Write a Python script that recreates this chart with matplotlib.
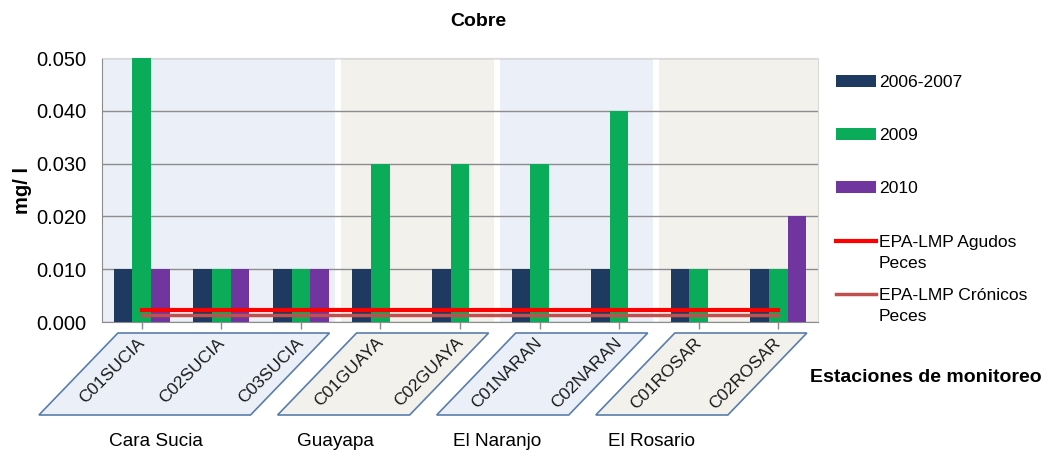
import numpy as np
import matplotlib
matplotlib.use("Agg")
import matplotlib.pyplot as plt
from matplotlib.patches import Polygon

plt.rcParams['font.family'] = ['Liberation Sans', 'DejaVu Sans']

# ---- data ----
stations = ["C01SUCIA", "C02SUCIA", "C03SUCIA", "C01GUAYA", "C02GUAYA",
            "C01NARAN", "C02NARAN", "C01ROSAR", "C02ROSAR"]
groups = ["Cara Sucia", "Guayapa", "El Naranjo", "El Rosario"]
group_members = [(0, 2), (3, 4), (5, 6), (7, 8)]
group_label_x = [0.18, 2.44, 4.47, 6.41]

cu_0607 = [0.010, 0.010, 0.010, 0.010, 0.010, 0.010, 0.010, 0.010, 0.010]
cu_2009 = [0.050, 0.010, 0.010, 0.030, 0.030, 0.030, 0.040, 0.010, 0.010]
cu_2010 = [0.010, 0.010, 0.010, np.nan, np.nan, np.nan, np.nan, np.nan, 0.020]

lmp_agudos = 0.0023
lmp_cronicos = 0.0013

series_labels = ["2006-2007", "2009", "2010"]
series_colors = ["#1F3A60", "#0BAC59", "#7135A0"]
band_colors = ["#EBF0F8", "#F2F1EC", "#EBF0F8", "#F2F1EC"]

# ---- figure ----
fig = plt.figure(figsize=(10.47, 4.51), dpi=100)
ax = fig.add_axes([102 / 1047, 1 - 322 / 451, 716 / 1047, 264 / 451])

x = np.arange(len(stations))
ax.set_xlim(-0.5, len(stations) - 0.5)
ax.set_ylim(0, 0.050)

# shaded bands per locality
for (a, b), c in zip(group_members, band_colors):
    lo = a - 0.5
    hi = b + 0.5 - (0.07 if b < len(stations) - 1 else 0)
    ax.axvspan(lo, hi, color=c, zorder=0, lw=0)

yt = np.arange(0, 0.051, 0.01)
ax.set_yticks(yt)
ax.set_yticklabels([f"{v:.3f}" for v in yt], fontsize=14.5)
ax.yaxis.grid(True, color="#8C8C8C", lw=1)
ax.set_axisbelow(True)
ax.tick_params(axis="y", length=0, pad=11)

w = 0.235
for i, (vals, col, lab) in enumerate(zip([cu_0607, cu_2009, cu_2010],
                                         series_colors, series_labels)):
    ax.bar(x + (i - 1) * w, vals, width=w, color=col, label=lab, zorder=3)

ax.plot([x[0], x[-1]], [lmp_agudos] * 2, color="#FF0000", lw=3,
        zorder=4, label="EPA-LMP Agudos")
ax.plot([x[0], x[-1]], [lmp_cronicos] * 2, color="#C0504D", lw=2.5,
        zorder=4, label="EPA-LMP Crónicos")

ax.set_xticks(x)
ax.set_xticklabels([])
ax.tick_params(axis="x", length=5, color="#8C8C8C", width=1)
for s in ["left", "bottom"]:
    ax.spines[s].set_color("#8C8C8C")
for s in ["top", "right"]:
    ax.spines[s].set_color("#D9D9D9")

# slanted label boxes under the axis (pixel geometry)
fig.canvas.draw()
W, H = fig.get_size_inches() * fig.dpi
unit = ax.transData.transform((1, 0))[0] - ax.transData.transform((0, 0))[0]
y_top, y_bot, shift = 333, 415, 79
for (a, b), c in zip(group_members, band_colors):
    xl = ax.transData.transform((a, 0))[0] - 0.3 * unit
    xr = ax.transData.transform((b, 0))[0] + 0.36 * unit
    pts = [(xl, y_top), (xr, y_top), (xr - shift, y_bot), (xl - shift, y_bot)]
    pts = [(px / W, 1 - py / H) for px, py in pts]
    fig.add_artist(Polygon(pts, closed=True, transform=fig.transFigure,
                           facecolor=c, edgecolor="#5A7DAA", lw=1.2, zorder=1))

for xi, name in zip(x, stations):
    px = ax.transData.transform((xi, 0))[0] - 5
    fig.text(px / W, 1 - 335 / H, name, rotation=45, rotation_mode="anchor",
             ha="right", va="top", fontsize=12.5, color="#1A1A1A", zorder=2)

for gx, g in zip(group_label_x, groups):
    px = ax.transData.transform((gx, 0))[0]
    fig.text(px / W, 1 - 442 / H, g, ha="center", va="center", fontsize=13.7)

fig.text(478 / W, 1 - 22 / H, "Cobre", ha="center", va="center",
         fontsize=14, fontweight="bold")
fig.text(22 / W, 1 - 190 / H, "mg/ l", ha="center", va="center",
         rotation=90, fontsize=14.5, fontweight="bold")
fig.text(926 / W, 1 - 378 / H, "Estaciones de monitoreo", ha="center",
         va="center", fontsize=14, fontweight="bold")

handles, labels = ax.get_legend_handles_labels()
order = [2, 3, 4, 0, 1]
leg = fig.legend([handles[k] for k in order], [labels[k] for k in order],
                 loc="upper left", bbox_to_anchor=(820 / W, 1 - 59 / H),
                 frameon=False, fontsize=12.6, handlelength=2.3,
                 handletextpad=0.15, labelspacing=2.17)

# second line of the two limit labels
fig.canvas.draw()
for t in leg.get_texts()[3:]:
    bb = t.get_window_extent()
    fig.text(bb.x0 / W, (bb.y0 - 21) / H, "Peces", ha="left", va="bottom",
             fontsize=12.6)

fig.savefig("out.png", dpi=100)
